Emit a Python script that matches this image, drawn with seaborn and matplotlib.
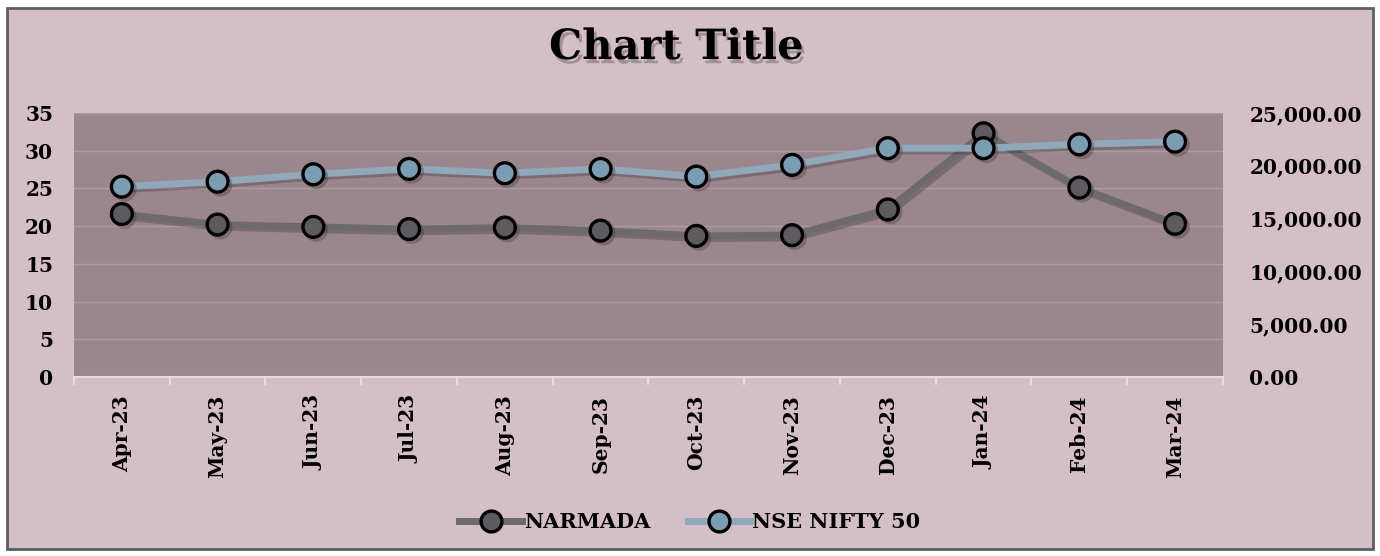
import numpy as np
import pandas as pd
import matplotlib
matplotlib.use('Agg')
import matplotlib.pyplot as plt
import matplotlib.patheffects as pe
from matplotlib.patches import Rectangle
from matplotlib.lines import Line2D
from matplotlib.ticker import FuncFormatter
import seaborn as sns

# данные
months = ['Apr-23', 'May-23', 'Jun-23', 'Jul-23', 'Aug-23', 'Sep-23',
          'Oct-23', 'Nov-23', 'Dec-23', 'Jan-24', 'Feb-24', 'Mar-24']
narmada = [21.6, 20.2, 19.9, 19.6, 19.8, 19.4, 18.7, 18.8, 22.2, 32.3, 25.1, 20.3]
nifty = [18020, 18490, 19190, 19700, 19290, 19700, 18970, 20080, 21660, 21660, 22030, 22280]

df = pd.DataFrame({'month': months, 'pos': np.arange(len(months)),
                   'NARMADA': narmada, 'NSE NIFTY 50': nifty})

# цвета
bg = '#D3BFC5'
plot_bg = '#9B868E'
grid_c = '#AD9BA2'
grey_line, grey_face = '#6D6A6E', '#5E5B60'
blue_line, blue_face = '#8EA9BA', '#7B9DB4'
axis_c = '#E6DADE'

plt.rcParams['font.family'] = ['DejaVu Serif']
plt.rcParams['font.weight'] = 'bold'

fig = plt.figure(figsize=(13.8, 5.56), dpi=100, facecolor='white')
fig.patches.append(Rectangle((0.005, 0.0126), 0.9899, 0.973, transform=fig.transFigure,
                             facecolor=bg, edgecolor='#5A5F63', lw=2, zorder=-10))

ax = fig.add_axes([0.0536, 0.322, 0.8326, 0.4749])
ax.set_facecolor(plot_bg)
ax2 = ax.twinx()
ax2.patch.set_visible(False)

shadow = [pe.SimpleLineShadow(offset=(2, -2), alpha=0.3, shadow_color='#3a2a30'), pe.Normal()]

sns.lineplot(data=df, x='pos', y='NARMADA', ax=ax, color=grey_line, linewidth=5,
             marker='o', markersize=15, markerfacecolor=grey_face, markeredgecolor='black',
             markeredgewidth=2.4, legend=False)
sns.lineplot(data=df, x='pos', y='NSE NIFTY 50', ax=ax2, color=blue_line, linewidth=5,
             marker='o', markersize=15, markerfacecolor=blue_face, markeredgecolor='black',
             markeredgewidth=2.4, legend=False)
for l in ax.lines + ax2.lines:
    l.set_path_effects(shadow)

# оси
ax.set_xlim(-0.5, len(months) - 0.5)
ax.set_ylim(0, 35)
ax.set_yticks(range(0, 36, 5))
ax2.set_ylim(0, 25000)
ax2.set_yticks(range(0, 25001, 5000))
ax2.yaxis.set_major_formatter(FuncFormatter(lambda v, p: f'{v:,.2f}'))

ax.set_xticks(df['pos'])
ax.set_xticklabels(months, rotation=90, fontsize=14.5, fontweight='bold')
ax.set_xticks(np.arange(-0.5, len(months), 1), minor=True)
ax.tick_params(axis='x', which='major', length=0, pad=13)
ax.tick_params(axis='x', which='minor', length=6, width=1.5, color=axis_c, direction='out')
ax.tick_params(axis='y', length=0, pad=15, labelsize=14.5)
ax2.tick_params(axis='y', length=0, pad=19, labelsize=14.5)
for lab in ax.get_yticklabels() + ax2.get_yticklabels():
    lab.set_fontweight('bold')

ax.grid(axis='y', color=grid_c, linewidth=1)
ax.set_axisbelow(True)
for a in (ax, ax2):
    for s in ['top', 'left', 'right', 'bottom']:
        a.spines[s].set_visible(False)
ax.spines['bottom'].set_visible(True)
ax.spines['bottom'].set_color(axis_c)
ax.spines['bottom'].set_linewidth(1.5)
ax.set_xlabel('')
ax.set_ylabel('')
ax2.set_ylabel('')

# заголовок
fig.text(0.49, 1 - 47 / 556, 'Chart Title', ha='center', va='center', fontsize=30,
         fontweight='bold', color='black',
         path_effects=[pe.withSimplePatchShadow(offset=(2, -3), shadow_rgbFace='#4a3a40', alpha=0.35)])

# легенда
handles = [Line2D([], [], color=grey_line, lw=5, marker='o', markersize=15,
                  markerfacecolor=grey_face, markeredgecolor='black', markeredgewidth=2.4),
           Line2D([], [], color=blue_line, lw=5, marker='o', markersize=15,
                  markerfacecolor=blue_face, markeredgecolor='black', markeredgewidth=2.4)]
fig.legend(handles, ['NARMADA', 'NSE NIFTY 50'], loc='center', bbox_to_anchor=(0.5, 1 - 522 / 556),
           ncol=2, frameon=False, handlelength=3, handletextpad=0.1, columnspacing=1.8,
           prop={'family': 'DejaVu Serif', 'weight': 'bold', 'size': 15})

fig.savefig('out.png', dpi=100, facecolor=fig.get_facecolor())
